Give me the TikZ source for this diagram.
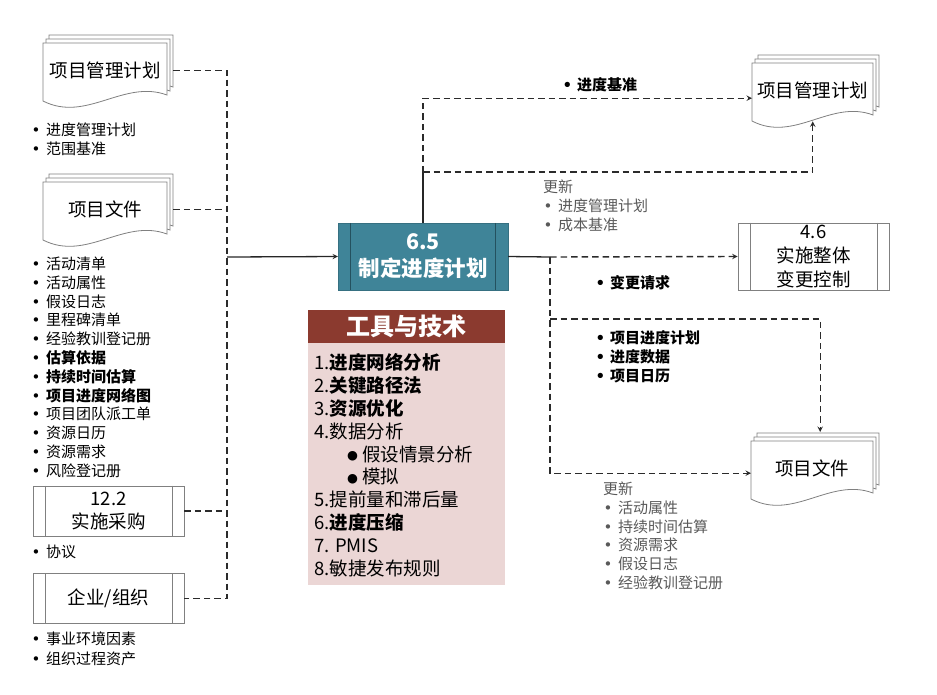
\documentclass[tikz,border=0pt]{standalone}
\usepackage{fontspec}
\setmainfont{Noto Sans CJK SC}
\newfontfamily\dotfont{DejaVu Sans}
\usetikzlibrary{positioning,arrows}
\definecolor{cTeal}{HTML}{3F8498}
\definecolor{cTealD}{HTML}{24515F}
\definecolor{cRust}{HTML}{8B3A2F}
\definecolor{cRose}{HTML}{EBD6D5}
\definecolor{cGrayT}{HTML}{595959}
\definecolor{cLine}{HTML}{2B2B2B}
\definecolor{cEdge}{HTML}{808080}
\tikzset{
  sheet/.style={draw=cEdge,line width=0.8pt,fill=white},
  doctxt/.style={inner sep=0pt,font=\fontsize{18.5}{22}\selectfont},
  stage/.style={draw=cEdge,line width=0.8pt,fill=white,minimum width=151,minimum height=50,inner sep=0pt,align=center,font=\fontsize{18.5}{23}\selectfont},
  proc/.style={fill=cTeal,draw=cTeal!85!black,minimum width=170,minimum height=67,inner sep=0pt,align=center,text=white,font=\bfseries\fontsize{21.5}{27}\selectfont},
  toolhd/.style={fill=cRust,minimum width=197,minimum height=33,inner sep=0pt,text=white,font=\bfseries\fontsize{24}{26}\selectfont},
  toolbd/.style={fill=cRose,minimum width=197,minimum height=242,inner sep=0pt},
  li/.style={anchor=base west,inner sep=0pt,font=\fontsize{15}{18}\selectfont},
  tl/.style={anchor=base west,inner sep=0pt,font=\fontsize{18.5}{22}\selectfont},
  dashln/.style={draw=cLine,line width=1.4pt,dash pattern=on 6.5pt off 4pt},
  solidln/.style={draw=black!85,line width=1.3pt},
}
\newcommand{\bul}{\makebox[15pt][l]{\hspace*{0.5pt}{\dotfont\fontsize{15}{15}\selectfont •}}}
\newcommand{\subbul}{\hspace*{33pt}\makebox[15pt][l]{\raisebox{1.5pt}{\dotfont\fontsize{12.5}{13}\selectfont ●}}}
% stacked document: name, left, top, width, text
\newcommand{\docstack}[5]{%
  \foreach \k in {2,1,0}
    \filldraw[sheet,shift={(#2+3*\k,#3-4*\k)}] (0,0) -- (#4,0) -- (#4,52)
      .. controls (0.65*#4,36) and (0.35*#4,80) .. (0,58) -- cycle;
  \node[doctxt,minimum width=#4,minimum height=54,anchor=north west] (#1) at (#2,#3) {#5};
}

\begin{document}
\begin{tikzpicture}[x=1pt,y=-1pt,>=stealth]
\useasboundingbox (0,0) rectangle (937,694);
% inputs
\docstack{pmin}{43}{43}{124}{项目管理计划}
\docstack{pdin}{43}{182}{124}{项目文件}
\node[stage] (purch) at (108.5,511) {12.2\\实施采购};
\node[stage] (ent) at (108.5,598.5) {企业/组织};
\foreach \t [count=\i from 0] in {进度管理计划,范围基准}
  \node[li] (pmi\i) at (31,135.5+19*\i) {\bul\t};
\foreach \t [count=\i from 0] in {活动清单,活动属性,假设日志,里程碑清单,经验教训登记册,\textbf{估算依据},\textbf{持续时间估算},\textbf{项目进度网络图},项目团队派工单,资源日历,资源需求,风险登记册}
  \node[li] (pdi\i) at (31,269.5+18.8*\i) {\bul\t};
\node[li] (pci) at (31,557.5) {\bul 协议};
\foreach \t [count=\i from 0] in {事业环境因素,组织过程资产}
  \node[li] (eni\i) at (31,644.5+20*\i) {\bul\t};

% process and tools
\node[proc] (proc) at (423,256.5) {6.5\\制定进度计划};
\node[toolhd] (toolhd) at (406.5,326.5) {工具与技术};
\node[toolbd,below=0pt of toolhd] (toolbd) {};
\foreach \t [count=\i from 0] in {1.\textbf{进度网络分析},2.\textbf{关键路径法},3.\textbf{资源优化},4.数据分析,\subbul 假设情景分析,\subbul 模拟,5.提前量和滞后量,6.\textbf{进度压缩},7. PMIS,8.敏捷发布规则}
  \node[tl] (tool\i) at (314,369.8+22.8*\i) {\t};

% outputs
\docstack{pmout}{752}{63}{121}{项目管理计划}
\node[stage,minimum height=67,font=\fontsize{18.5}{24}\selectfont] (integ) at (813.5,256.5) {4.6\\实施整体\\变更控制};
\docstack{pdout}{751}{441}{122}{项目文件}
\foreach \n in {purch,ent,integ}
  \draw[cEdge,line width=0.8pt] ([xshift=12.5pt]\n.north west) -- ([xshift=12.5pt]\n.south west)
    ([xshift=-12.5pt]\n.north east) -- ([xshift=-12.5pt]\n.south east);
\draw[cTealD,line width=1pt] ([xshift=13pt]proc.north west) -- ([xshift=13pt]proc.south west)
  ([xshift=-13pt]proc.north east) -- ([xshift=-13pt]proc.south east);

% connectors
\coordinate (bus) at (227,257);
\draw[dashln] ([xshift=6pt]pmin.east) -| (bus |- ent.east) -- (ent.east);
\draw[dashln] ([xshift=6pt]pdin.east) -- (bus |- pdin.east);
\draw[dashln] (purch.east) -- (bus |- purch.east);
\draw[solidln,->] (bus) -- (proc.west);
\coordinate (upj) at (423,172);
\draw[solidln] (proc.north) -- (upj);
\draw[dashln,->] (upj) |- ([yshift=-8pt]pmout.west);
\draw[dashln,->] (upj) -| ([yshift=-4pt]pmout.south);
\coordinate (rj) at (550,257);
\coordinate (rj2) at (550,319);
\draw[solidln] (proc.east) -- (rj);
\draw[dashln,->] (rj) -- (integ.west);
\draw[dashln,->] (rj) |- ([yshift=-5pt]pdout.west);
\draw[dashln,->] (rj2) -| ([xshift=8pt,yshift=9pt]pdout.north);

% output labels
\node[li] (sbl) at (562,90.5) {\bfseries\bul 进度基准};
\node[li,text=cGrayT] (upd1) at (543,192.5) {更新};
\foreach \t [count=\i from 0] in {进度管理计划,成本基准}
  \node[li,text=cGrayT] (updl\i) at (543,211.5+19*\i) {\bul\t};
\node[li] (crq) at (595,288.5) {\bfseries\bul 变更请求};
\foreach \t [count=\i from 0] in {项目进度计划,进度数据,项目日历}
  \node[li,font=\bfseries\fontsize{15}{18}\selectfont] (pso\i) at (595,343.5+19*\i) {\bul\t};
\node[li,text=cGrayT] (upd2) at (603,494) {更新};
\foreach \t [count=\i from 0] in {活动属性,持续时间估算,资源需求,假设日志,经验教训登记册}
  \node[li,text=cGrayT] (updd\i) at (603,513.5+18.7*\i) {\bul\t};
\end{tikzpicture}
\end{document}
